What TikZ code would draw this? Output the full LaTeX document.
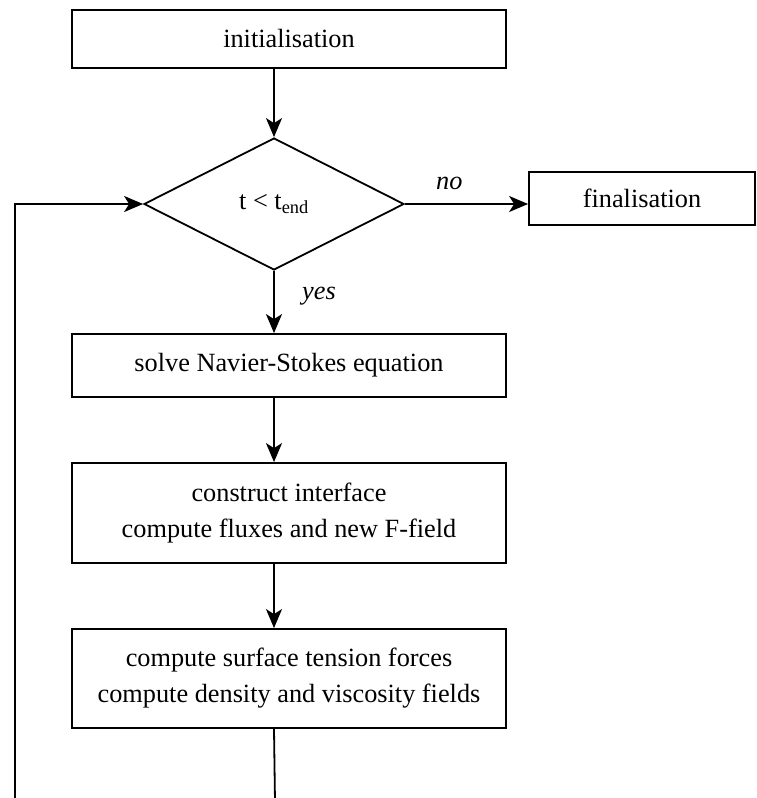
\documentclass[tikz,border=0pt]{standalone}
\usepackage{fontspec}
\setmainfont{Liberation Serif}
\usetikzlibrary{shapes.geometric,arrows.meta}
\begin{document}
\begin{tikzpicture}[x=1pt,y=-1pt,
  every node/.style={font=\fontsize{26.3}{32}\selectfont},
  procbox/.style={draw, line width=1.8pt, minimum width=434pt, align=center, inner sep=0pt},
  decision/.style={draw, diamond, line width=1.8pt, minimum width=260pt, minimum height=132pt, inner sep=0pt},
  flow/.style={line width=1.8pt, -{Stealth[length=19pt,width=16pt,inset=5pt]}},
  plain/.style={line width=1.8pt},
  lbl/.style={font=\fontsize{26.3}{32}\selectfont\itshape}]
\useasboundingbox (0,0) rectangle (757,798);
\node[procbox, minimum height=58pt] (init) at (289,39) {initialisation};
\node[decision] (dec) at (274,204) {t < t\textsubscript{end}};
\node[procbox, minimum width=226pt, minimum height=53pt] (fin) at (642,198.5) {finalisation};
\node[procbox, minimum height=63pt] (solve) at (289,365.5) {solve Navier-Stokes equation};
\node[procbox, minimum height=100pt] (cons) at (289,513) {construct interface\\[4pt]compute fluxes and new F-field};
\node[procbox, minimum height=99pt] (comp) at (289,678.5) {compute surface tension forces\\[4pt]compute density and viscosity fields};
\coordinate (bot) at (275,802);
\coordinate (left) at (15,802);
\coordinate (leftup) at (15,204);
\draw[flow] (init.south -| dec.north) -- (dec.north);
\draw[flow] (dec.east) -- (dec.east -| fin.west) node[lbl, pos=0.36, above=10pt] {no};
\draw[flow] (dec.south) -- (dec.south |- solve.north) node[lbl, pos=0.4, right=24pt] {yes};
\draw[flow] (solve.south -| dec.south) -- (cons.north -| dec.south);
\draw[flow] (cons.south -| dec.south) -- (comp.north -| dec.south);
\draw[plain] (comp.south -| dec.south) -- (bot);
\draw[flow] (left) -- (leftup) -- (dec.west);
\end{tikzpicture}
\end{document}
